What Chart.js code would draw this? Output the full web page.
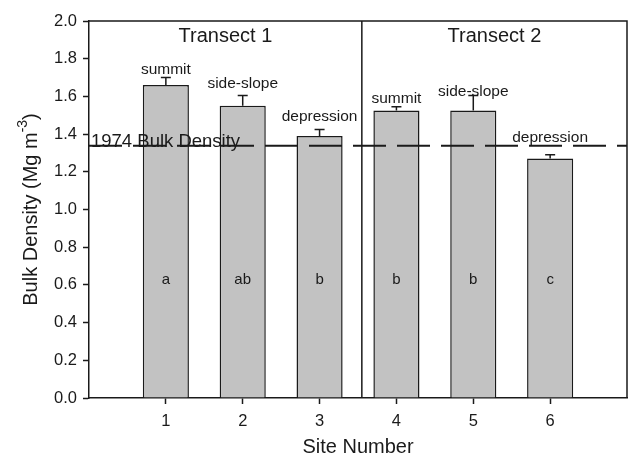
<!DOCTYPE html>
<html>
<head>
<meta charset="utf-8">
<script src="https://cdn.jsdelivr.net/npm/chart.js@4.4.1/dist/chart.umd.min.js"></script>
<style>
    html, body { margin: 0; padding: 0; background: #fff; }
    #wrap { width: 632px; height: 457px; }
</style>
</head>
<body>
<div id="wrap"><canvas id="chart" width="632" height="457"></canvas></div>
<script>
// Datos
const sites = [1, 2, 3, 4, 5, 6];
const bulkDensity = [1.66, 1.55, 1.39, 1.525, 1.525, 1.27];
const stdErr = [0.04, 0.055, 0.035, 0.02, 0.08, 0.02];
const landscape = ['summit', 'side-slope', 'depression', 'summit', 'side-slope', 'depression'];
const landscapeY = [1.74, 1.666, 1.49, 1.586, 1.623, 1.379];
const groups = ['a', 'ab', 'b', 'b', 'b', 'c'];
const groupY = 0.625;
const ref1974 = 1.338;
const transects = ['Transect 1', 'Transect 2'];
const transectSplit = 3.55;
const yTicks = [0, 0.2, 0.4, 0.6, 0.8, 1.0, 1.2, 1.4, 1.6, 1.8, 2.0];

const FONT = '"Liberation Sans", Arial, Helvetica, sans-serif';
const INK = '#1a1a1a';

// Barras de error, marco, textos
const extras = {
    id: 'extras',
    afterDatasetsDraw(chart) {
        const ctx = chart.ctx;
        const x = chart.scales.x, y = chart.scales.y;
        const area = chart.chartArea;
        ctx.save();

        // error bars (upper only)
        ctx.strokeStyle = INK;
        ctx.lineWidth = 1.5;
        sites.forEach((s, i) => {
            const px = x.getPixelForValue(s);
            const y0 = y.getPixelForValue(bulkDensity[i]);
            const y1 = y.getPixelForValue(bulkDensity[i] + stdErr[i]);
            ctx.beginPath();
            ctx.moveTo(px, y0);
            ctx.lineTo(px, y1);
            ctx.moveTo(px - 5, y1);
            ctx.lineTo(px + 5, y1);
            ctx.stroke();
        });

        // frame top/right + divider
        ctx.beginPath();
        ctx.moveTo(area.left, area.top);
        ctx.lineTo(area.right, area.top);
        ctx.lineTo(area.right, area.bottom);
        const dx = x.getPixelForValue(transectSplit);
        ctx.moveTo(dx, area.top);
        ctx.lineTo(dx, area.bottom);
        ctx.stroke();

        ctx.fillStyle = INK;
        ctx.textAlign = 'center';
        ctx.textBaseline = 'middle';

        // transect titles
        ctx.font = '20px ' + FONT;
        ctx.fillText(transects[0], (x.getPixelForValue(x.min) + dx) / 2, area.top + 15);
        ctx.fillText(transects[1], (dx + x.getPixelForValue(x.max)) / 2, area.top + 15);

        // landscape position labels
        ctx.font = '15.5px ' + FONT;
        sites.forEach((s, i) => {
            ctx.fillText(landscape[i], x.getPixelForValue(s), y.getPixelForValue(landscapeY[i]));
        });

        // significance letters
        ctx.font = '15px ' + FONT;
        sites.forEach((s, i) => {
            ctx.fillText(groups[i], x.getPixelForValue(s), y.getPixelForValue(groupY));
        });

        // 1974 reference label
        ctx.textAlign = 'left';
        ctx.textBaseline = 'alphabetic';
        ctx.font = '18.5px ' + FONT;
        ctx.fillText('1974 Bulk Density', area.left + 2, y.getPixelForValue(ref1974) + 1);

        // y axis title with superscript
        ctx.translate(31, (area.top + area.bottom) / 2);
        ctx.rotate(-Math.PI / 2);
        const main = 'Bulk Density (Mg m';
        ctx.font = '20px ' + FONT;
        const wMain = ctx.measureText(main).width;
        ctx.font = '14px ' + FONT;
        const wSup = ctx.measureText('-3').width;
        ctx.font = '20px ' + FONT;
        const wEnd = ctx.measureText(')').width;
        let cx = -(wMain + wSup + wEnd) / 2;
        ctx.textBaseline = 'middle';
        ctx.fillText(main, cx, 0);
        cx += wMain;
        ctx.font = '14px ' + FONT;
        ctx.fillText('-3', cx, -8);
        cx += wSup;
        ctx.font = '20px ' + FONT;
        ctx.fillText(')', cx, 0);

        ctx.restore();
    }
};

new Chart(document.getElementById('chart'), {
    type: 'bar',
    data: {
        datasets: [
            {
                type: 'line',
                order: 0,
                data: [{ x: 0, y: ref1974 }, { x: 7, y: ref1974 }],
                borderColor: INK,
                borderWidth: 2,
                borderDash: [33, 11],
                pointRadius: 0,
                fill: false
            },
            {
                type: 'bar',
                order: 1,
                data: sites.map((s, i) => ({ x: s, y: bulkDensity[i] })),
                backgroundColor: '#c2c2c2',
                borderColor: INK,
                borderWidth: 1.5,
                barPercentage: 0.6,
                categoryPercentage: 1
            }
        ]
    },
    options: {
        responsive: false,
        animation: false,
        devicePixelRatio: 1,
        layout: { padding: { top: 21, right: 5, left: 0, bottom: 0 } },
        plugins: {
            legend: { display: false },
            tooltip: { enabled: false }
        },
        scales: {
            x: {
                type: 'linear',
                min: 0,
                max: 7,
                offset: false,
                afterBuildTicks: (s) => { s.ticks = sites.map(v => ({ value: v })); },
                afterFit: (s) => { s.height = 59; },
                ticks: {
                    color: INK,
                    font: { family: FONT, size: 16.5 },
                    padding: 8
                },
                grid: {
                    offset: false,
                    drawOnChartArea: false,
                    drawTicks: true,
                    tickLength: 6,
                    tickWidth: 1.5,
                    color: INK
                },
                border: { display: true, color: INK, width: 1.5 },
                title: {
                    display: true,
                    text: 'Site Number',
                    color: INK,
                    font: { family: FONT, size: 20, lineHeight: 1.0 },
                    padding: { top: 5, bottom: 0 }
                }
            },
            y: {
                min: 0,
                max: 2,
                afterBuildTicks: (s) => { s.ticks = yTicks.map(v => ({ value: v })); },
                afterFit: (s) => { s.width = 89; },
                ticks: {
                    color: INK,
                    font: { family: FONT, size: 16.5 },
                    padding: 6,
                    callback: (v) => Number(v).toFixed(1)
                },
                grid: {
                    drawOnChartArea: false,
                    drawTicks: true,
                    tickLength: 6,
                    tickWidth: 1.5,
                    color: INK
                },
                border: { display: true, color: INK, width: 1.5 }
            }
        }
    },
    plugins: [extras]
});
</script>
</body>
</html>
